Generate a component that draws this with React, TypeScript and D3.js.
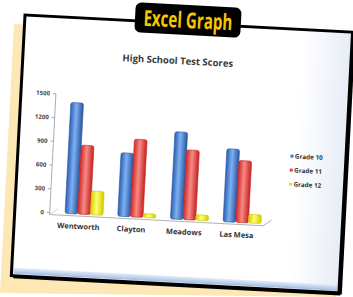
import * as d3 from 'd3';

const schools = ['Wentworth', 'Clayton', 'Meadows', 'Las Mesa'];
const grades = ['Grade 10', 'Grade 11', 'Grade 12'];
const grade10 = [1400, 800, 1100, 920];
const grade11 = [870, 980, 880, 780];
const grade12 = [300, 50, 70, 110];
const yTicks = [0, 300, 600, 900, 1200, 1500];
const colors = ['blue', 'red', 'yellow'];

const grad = {
  blue: ['#2c5fb3', '#7db0f2', '#2a56a0'],
  red: ['#d22a2a', '#f88a84', '#c42222'],
  yellow: ['#d8d000', '#ffff70', '#d0c800'],
};
const legendColor = { blue: '#3a7ad0', red: '#e84040', yellow: '#f0e400' };

export default function App() {
  // chart coordinates live inside the rotated "window" frame (328 x 261)
  const FW = 328;
  const FH = 261;
  const y = d3.scaleLinear().domain([0, 1500]).range([196, 77]);
  const x = d3.scaleBand().domain(schools).range([38, 249]);
  const inner = d3.scaleBand().domain(grades).range([0, 38]);
  const values = [grade10, grade11, grade12];
  const shift = x.step() / 2 - 38 / 2 + 5;
  const labelFont = "'Open Sans', 'DejaVu Sans', sans-serif";

  return (
    <svg
      width={353}
      height={297}
      style={{ position: 'absolute', left: 0, top: 0, background: '#fff' }}
    >
      <defs>
        {colors.map((c) => (
          <linearGradient key={c} id={'g-' + c} x1="0" x2="1" y1="0" y2="0">
            <stop offset="0" stopColor={grad[c][0]} />
            <stop offset="0.45" stopColor={grad[c][1]} />
            <stop offset="1" stopColor={grad[c][2]} />
          </linearGradient>
        ))}
        <linearGradient id="screen" x1="0" x2="1" y1="0" y2="0">
          <stop offset="0.85" stopColor="#ffffff" />
          <stop offset="1" stopColor="#e6ecf6" />
        </linearGradient>
        <linearGradient id="strip" x1="0" x2="0" y1="0" y2="1">
          <stop offset="0" stopColor="#e4edf8" />
          <stop offset="1" stopColor="#9fbce2" />
        </linearGradient>
      </defs>

      {/* paper behind the window */}
      <polygon points="14,24 350,40 336,297 0,293" fill="#fde7b4" />

      {/* window */}
      <g transform="translate(25,15) rotate(3)">
        <rect x={0} y={0} width={FW} height={FH} fill="url(#screen)" />
        <rect x={2} y={FH - 8} width={FW - 4} height={6} fill="url(#strip)" />
        <rect x={0} y={0} width={FW} height={FH} fill="none" stroke="#000" strokeWidth={3} />
        <line x1={FW + 1.5} y1={2} x2={FW + 1.5} y2={FH + 1.5} stroke="#000" strokeWidth={3} />
        <line x1={2} y1={FH + 1.5} x2={FW + 1.5} y2={FH + 1.5} stroke="#000" strokeWidth={2} />

        <text
          x={155}
          y={41}
          textAnchor="middle"
          fontFamily={labelFont}
          fontWeight="bold"
          fontSize={9.5}
          fill="#3a3a3a"
        >
          High School Test Scores
        </text>

        {/* y axis */}
        <line x1={35} x2={35} y1={y(1500)} y2={y(0) + 2} stroke="#9a9a9a" strokeWidth={0.8} />
        {yTicks.map((t) => (
          <g key={t}>
            <line x1={32} x2={35} y1={y(t)} y2={y(t)} stroke="#9a9a9a" strokeWidth={0.8} />
            <text
              x={29}
              y={y(t)}
              dy="0.35em"
              textAnchor="end"
              fontFamily={labelFont}
              fontWeight="bold"
              fontSize={6}
              fill="#444"
            >
              {t}
            </text>
          </g>
        ))}

        {/* floor */}
        <line x1={35} x2={249} y1={y(0) + 2} y2={y(0) + 2} stroke="#a0a0a0" strokeWidth={0.8} />
        <line x1={249} x2={257} y1={y(0) + 2} y2={y(0) - 4} stroke="#a0a0a0" strokeWidth={0.8} />
        <line x1={35} x2={43} y1={y(0) + 2} y2={y(0) - 4} stroke="#b8b8b8" strokeWidth={0.6} />

        {/* bars */}
        {schools.map((s, i) => (
          <g key={s} transform={`translate(${(x(s) ?? 0) + shift},0)`}>
            {grades.map((g, j) => {
              const v = values[j][i];
              return (
                <rect
                  key={g}
                  x={inner(g)}
                  y={y(v)}
                  width={inner.bandwidth()}
                  height={y(0) - y(v)}
                  rx={2}
                  fill={`url(#g-${colors[j]})`}
                  stroke={grad[colors[j]][2]}
                  strokeWidth={0.6}
                />
              );
            })}
          </g>
        ))}

        {/* category labels */}
        {schools.map((s) => (
          <text
            key={s}
            x={(x(s) ?? 0) + x.bandwidth() / 2}
            y={211}
            textAnchor="middle"
            fontFamily={labelFont}
            fontWeight="bold"
            fontSize={7.5}
            fill="#333"
          >
            {s}
          </text>
        ))}

        {/* legend */}
        {grades.map((g, j) => (
          <g key={g} transform={`translate(274,${127 + j * 14})`}>
            <rect x={-1.5} y={-1.5} width={3} height={3} fill={legendColor[colors[j]]} />
            <text
              x={3}
              dy="0.35em"
              fontFamily={labelFont}
              fontWeight="bold"
              fontSize={6.3}
              fill="#333"
            >
              {g}
            </text>
          </g>
        ))}
      </g>

      {/* title tag */}
      <g transform="translate(188,20) rotate(3)">
        <rect x={-53} y={-15} width={106} height={30} rx={6} fill="#000" />
        <text
          x={0}
          y={8}
          textAnchor="middle"
          fontFamily={labelFont}
          fontWeight="bold"
          fontSize={22}
          textLength={89}
          lengthAdjust="spacingAndGlyphs"
          fill="#f7c600"
        >
          Excel Graph
        </text>
      </g>
    </svg>
  );
}
